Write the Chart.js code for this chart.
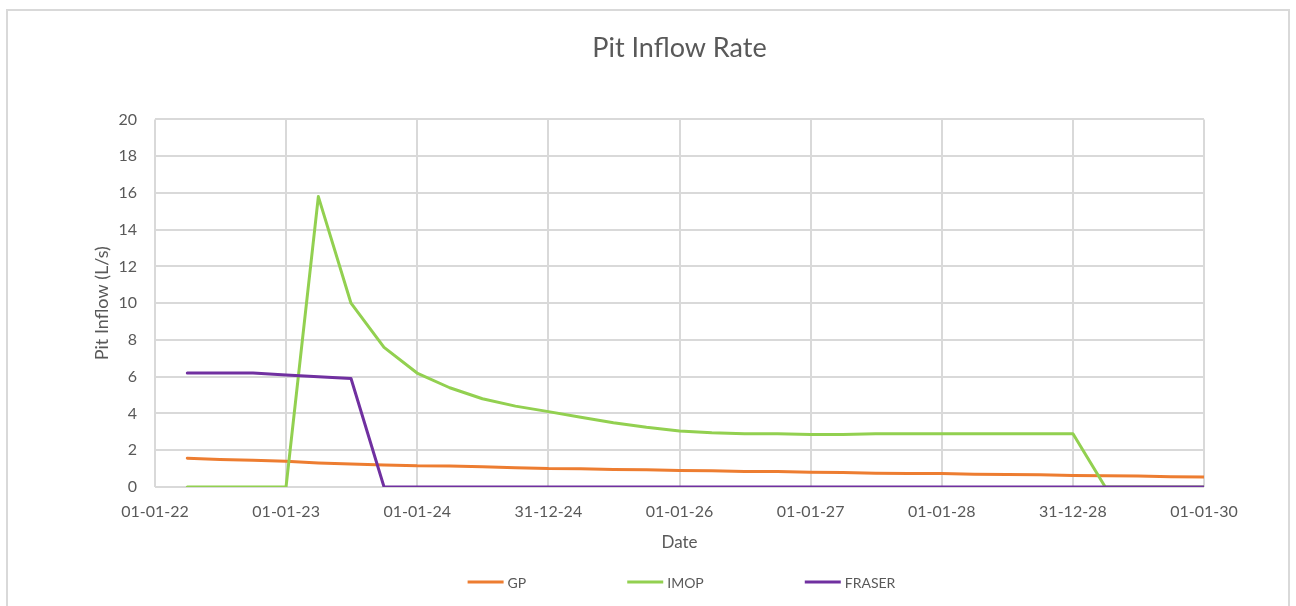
<!DOCTYPE html>
<html>
<head>
<meta charset="utf-8">
<script src="https://cdn.jsdelivr.net/npm/chart.js@4"></script>
<style>
  html, body { margin: 0; padding: 0; background: #fff; }
  #wrap { width: 1296px; height: 606px; }
</style>
</head>
<body>
<div id="wrap"><canvas id="inflowChart" width="1296" height="606"></canvas></div>
<script>
// datos trimestrales
const dates = [
  "2022-04-01", "2022-07-01", "2022-10-01", "2023-01-01",
  "2023-04-01", "2023-07-01", "2023-10-01", "2024-01-01",
  "2024-04-01", "2024-07-01", "2024-10-01", "2025-01-01",
  "2025-04-01", "2025-07-01", "2025-10-01", "2026-01-01",
  "2026-04-01", "2026-07-01", "2026-10-01", "2027-01-01",
  "2027-04-01", "2027-07-01", "2027-10-01", "2028-01-01",
  "2028-04-01", "2028-07-01", "2028-10-01", "2029-01-01",
  "2029-04-01", "2029-07-01", "2029-10-01", "2030-01-01"
];
const gpValues = [
  1.57, 1.5, 1.45, 1.4, 1.31, 1.25, 1.2, 1.15,
  1.14, 1.1, 1.05, 1.0, 0.99, 0.95, 0.94, 0.9,
  0.89, 0.85, 0.84, 0.8, 0.79, 0.75, 0.74, 0.74,
  0.7, 0.68, 0.66, 0.62, 0.61, 0.6, 0.56, 0.55
];
const imopValues = [
  0, 0, 0, 0, 15.8, 10.0, 7.6, 6.2,
  5.4, 4.8, 4.4, 4.1, 3.8, 3.5, 3.25, 3.05,
  2.95, 2.9, 2.9, 2.85, 2.85, 2.9, 2.9, 2.9,
  2.9, 2.9, 2.9, 2.9, 0, 0, 0, 0
];
const fraserValues = [
  6.2, 6.2, 6.2, 6.1, 6.0, 5.9, 0, 0,
  0, 0, 0, 0, 0, 0, 0, 0,
  0, 0, 0, 0, 0, 0, 0, 0,
  0, 0, 0, 0, 0, 0, 0, 0
];
const xTickLabels = ["01-01-22", "01-01-23", "01-01-24", "31-12-24", "01-01-26", "01-01-27", "01-01-28", "31-12-28", "01-01-30"];
const yTicks = [0, 2, 4, 6, 8, 10, 12, 14, 16, 18, 20];

const startDate = Date.UTC(2022, 0, 1);
const DAY = 86400000;
const YEAR = 365.25; // paso de Excel entre marcas del eje

// convertimos fechas a dias desde 01-01-22
function toDays(s) {
  const p = s.split("-");
  return (Date.UTC(+p[0], +p[1] - 1, +p[2]) - startDate) / DAY;
}
function toPoints(values) {
  return values.map((v, i) => ({ x: toDays(dates[i]), y: v }));
}

const textColor = "#595959";
const gridColor = "#d9d9d9";
const fontFamily = "Lato, 'Open Sans', sans-serif";

// marco gris alrededor del grafico
const framePlugin = {
  id: "frame",
  beforeDraw(chart) {
    const ctx = chart.ctx;
    ctx.save();
    ctx.fillStyle = "#fff";
    ctx.fillRect(0, 0, chart.width, chart.height);
    ctx.strokeStyle = gridColor;
    ctx.lineWidth = 2;
    ctx.strokeRect(7, 10, chart.width - 14, chart.height + 40);
    ctx.restore();
  }
};

// leyenda propia para separar los elementos como en Excel
const lineLegend = {
  id: "lineLegend",
  afterDraw(chart) {
    const ctx = chart.ctx;
    const ds = chart.data.datasets;
    const lineW = 36, gapText = 4, gapItem = 101;
    ctx.save();
    ctx.font = "14px " + fontFamily;
    const widths = ds.map((d) => lineW + gapText + ctx.measureText(d.label).width);
    const total = widths.reduce((a, b) => a + b, 0) + gapItem * (ds.length - 1);
    const area = chart.chartArea;
    let x = (area.left + area.right) / 2 - total / 2 + 2;
    const y = chart.height - 24;
    ds.forEach((d, i) => {
      ctx.strokeStyle = d.borderColor;
      ctx.lineWidth = 3;
      ctx.beginPath();
      ctx.moveTo(x, y);
      ctx.lineTo(x + lineW, y);
      ctx.stroke();
      ctx.fillStyle = textColor;
      ctx.textBaseline = "middle";
      ctx.textAlign = "left";
      ctx.fillText(d.label, x + lineW + gapText, y + 1);
      x += widths[i] + gapItem;
    });
    ctx.restore();
  }
};

const ctx = document.getElementById("inflowChart").getContext("2d");
new Chart(ctx, {
  type: "line",
  data: {
    datasets: [
      { label: "GP", data: toPoints(gpValues), borderColor: "#ED7D31", backgroundColor: "#ED7D31", order: 3 },
      { label: "IMOP", data: toPoints(imopValues), borderColor: "#92D050", backgroundColor: "#92D050", order: 2 },
      { label: "FRASER", data: toPoints(fraserValues), borderColor: "#7030A0", backgroundColor: "#7030A0", order: 1 }
    ]
  },
  options: {
    responsive: false,
    animation: false,
    layout: { padding: { left: 0, right: 92, top: 0, bottom: 0 } },
    elements: {
      line: { borderWidth: 3, tension: 0, borderCapStyle: "round", borderJoinStyle: "round" },
      point: { radius: 0 }
    },
    plugins: {
      legend: { display: false },
      tooltip: { enabled: false },
      title: {
        display: true,
        fullSize: false,
        text: "Pit Inflow Rate",
        color: textColor,
        font: { family: fontFamily, size: 27, weight: "normal" },
        padding: { top: 32, bottom: 55 }
      }
    },
    scales: {
      x: {
        type: "linear",
        min: 0,
        max: YEAR * 8,
        afterBuildTicks(scale) {
          scale.ticks = xTickLabels.map((t, i) => ({ value: i * YEAR, label: t }));
        },
        afterFit(scale) { scale.height = 119; },
        ticks: {
          color: textColor,
          font: { family: fontFamily, size: 16 },
          padding: 15,
          maxRotation: 0,
          autoSkip: false,
          callback: (v, i) => xTickLabels[i]
        },
        grid: { color: gridColor, lineWidth: 2, drawTicks: false },
        border: { display: false },
        title: {
          display: true,
          text: "Date",
          color: textColor,
          font: { family: fontFamily, size: 17 },
          padding: { top: 8, bottom: 53 }
        }
      },
      y: {
        min: 0,
        max: 20,
        afterBuildTicks(scale) {
          scale.ticks = yTicks.map((v) => ({ value: v }));
        },
        afterFit(scale) { scale.width = 155; },
        ticks: {
          color: textColor,
          font: { family: fontFamily, size: 16 },
          padding: 18
        },
        grid: { color: gridColor, lineWidth: 2, drawTicks: false },
        border: { display: false },
        title: {
          display: true,
          text: "Pit Inflow (L/s)",
          color: textColor,
          font: { family: fontFamily, size: 18 },
          padding: { top: 91, bottom: 0 }
        }
      }
    }
  },
  plugins: [framePlugin, lineLegend]
});
</script>
</body>
</html>
